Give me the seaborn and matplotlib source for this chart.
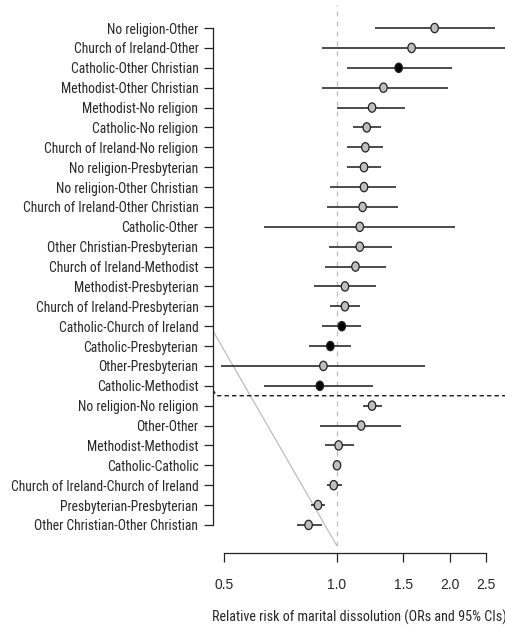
import numpy as np
import pandas as pd
import matplotlib
matplotlib.use("Agg")
import matplotlib.pyplot as plt
from matplotlib.path import Path
from matplotlib.transforms import Affine2D
from matplotlib import font_manager
from matplotlib.font_manager import FontProperties
import seaborn as sns

labels = [
    "No religion-Other", "Church of Ireland-Other", "Catholic-Other Christian",
    "Methodist-Other Christian", "Methodist-No religion", "Catholic-No religion",
    "Church of Ireland-No religion", "No religion-Presbyterian", "No religion-Other Christian",
    "Church of Ireland-Other Christian", "Catholic-Other", "Other Christian-Presbyterian",
    "Church of Ireland-Methodist", "Methodist-Presbyterian", "Church of Ireland-Presbyterian",
    "Catholic-Church of Ireland", "Catholic-Presbyterian", "Other-Presbyterian",
    "Catholic-Methodist", "No religion-No religion", "Other-Other", "Methodist-Methodist",
    "Catholic-Catholic", "Church of Ireland-Church of Ireland", "Presbyterian-Presbyterian",
    "Other Christian-Other Christian",
]
odds = [1.82, 1.58, 1.46, 1.33, 1.24, 1.20, 1.19, 1.18, 1.18, 1.17, 1.15, 1.15, 1.12,
        1.05, 1.05, 1.03, 0.96, 0.92, 0.90, 1.24, 1.16, 1.01, 1.00, 0.98, 0.89, 0.84]
ci_low = [1.26, 0.91, 1.06, 0.91, 1.00, 1.10, 1.06, 1.06, 0.96, 0.94, 0.64, 0.95, 0.93,
          0.87, 0.96, 0.91, 0.84, 0.49, 0.64, 1.17, 0.90, 0.93, 1.00, 0.94, 0.85, 0.78]
ci_high = [2.63, 2.90, 2.03, 1.98, 1.52, 1.31, 1.33, 1.31, 1.44, 1.45, 2.06, 1.40, 1.35,
           1.27, 1.15, 1.16, 1.09, 1.72, 1.25, 1.32, 1.48, 1.11, 1.00, 1.03, 0.93, 0.91]
significant = [False, False, True, False, False, False, False, False, False, False, False,
               False, False, False, False, True, True, False, True, False, False, False,
               False, False, False, False]
xticks = [0.5, 1.0, 1.5, 2.0, 2.5]
xticklabels = ["0.5", "1.0", "1.5", "2.0", "2.5"]
xlabel = "Relative risk of marital dissolution (ORs and 95% CIs)"

df = pd.DataFrame({"label": labels, "or": odds, "lo": ci_low, "hi": ci_high,
                   "sig": significant})
df["pos"] = np.arange(len(df))

sns.set_style("white")
plt.rcParams["font.family"] = ["Liberation Sans", "DejaVu Sans"]

# pick a narrow sans face if one is installed, else Liberation Sans
fp_base = None
for f in font_manager.fontManager.ttflist:
    nm = f.name.lower()
    st = str(f.stretch).lower()
    if f.style == "normal" and str(f.weight) in ("400", "normal", "regular") and (
            "narrow" in nm or "condensed" in nm or st in ("condensed", "semi-condensed")):
        if "sans" in nm or "roboto" in nm or "arial" in nm:
            fp_base = FontProperties(fname=f.fname)
            if "liberation" in nm:
                break
if fp_base is None:
    fp_base = FontProperties(family=["Liberation Sans", "DejaVu Sans"])

W, H = 505, 631
fig = plt.figure(figsize=(W / 100, H / 100), dpi=100)
renderer = fig.canvas.get_renderer()


def fit_size(text, target_px, start=10.0):
    fp = fp_base.copy()
    fp.set_size(start)
    t = fig.text(0, 0, text, fontproperties=fp)
    w = t.get_window_extent(renderer).width
    t.remove()
    return start * target_px / w


ylab_size = fit_size("Church of Ireland-Church of Ireland", 187)
xlab_size = fit_size(xlabel, 294)
fp_y = fp_base.copy(); fp_y.set_size(ylab_size)
fp_xt = fp_base.copy(); fp_xt.set_size(ylab_size * 1.05)
fp_xl = fp_base.copy(); fp_xl.set_size(xlab_size)

ax = fig.add_axes([213 / W, 1 - 546 / H, (505 - 213) / W, (546 - 5) / H])
ax.set_xscale("log")
xmin, xmax = 0.4673, 2.803
ax.set_xlim(xmin, xmax)
ax.set_ylim(26.06, -1.16)

ax.axvline(1.0, color="#bdbdbd", lw=0.9, ls=(0, (4, 4)), zorder=1)
ax.plot([xmin, 1.0], [15.24, 26.06], color="#bdbdbd", lw=0.9, zorder=1)
ax.plot([xmin, 0.477, xmax * 1.05], [18.2, 18.5, 18.5], color="black", lw=0.9,
        ls=(0, (3.5, 2.5)), zorder=2)

ax.hlines(df["pos"], df["lo"], df["hi"], color="#1a1a1a", lw=1.1, zorder=3)

ell = Path.unit_circle().transformed(Affine2D().scale(0.8, 1.0))
sns.scatterplot(data=df, x="or", y="pos", hue="sig",
                palette={False: "#bebebe", True: "black"},
                marker=ell, s=45, edgecolor="#222222", linewidth=0.9,
                legend=False, ax=ax, zorder=4)

ax.set_yticks(df["pos"])
ax.set_yticklabels(df["label"], fontproperties=fp_y)
ax.set_xticks(xticks)
ax.set_xticklabels(xticklabels, fontproperties=fp_xt)
ax.xaxis.set_minor_locator(matplotlib.ticker.NullLocator())
ax.set_xlabel("")
ax.set_ylabel("")

for s in ["top", "right"]:
    ax.spines[s].set_visible(False)
ax.spines["left"].set_bounds(0, 25)
ax.spines["bottom"].set_bounds(0.5, 2.5)
ax.spines["bottom"].set_position(("outward", 5))
for s in ["left", "bottom"]:
    ax.spines[s].set_color("#222222")
    ax.spines[s].set_linewidth(0.9)
ax.tick_params(axis="y", direction="out", length=6.5, width=0.9, pad=4, color="#222222",
               left=True)
ax.tick_params(axis="x", direction="out", length=6.5, width=0.9, pad=11.5, color="#222222",
               bottom=True)

fig.text((213 + 505) / 2 / W, 1 - 617 / H, xlabel, ha="center", va="center",
         fontproperties=fp_xl)

fig.savefig("out.png", dpi=100)
